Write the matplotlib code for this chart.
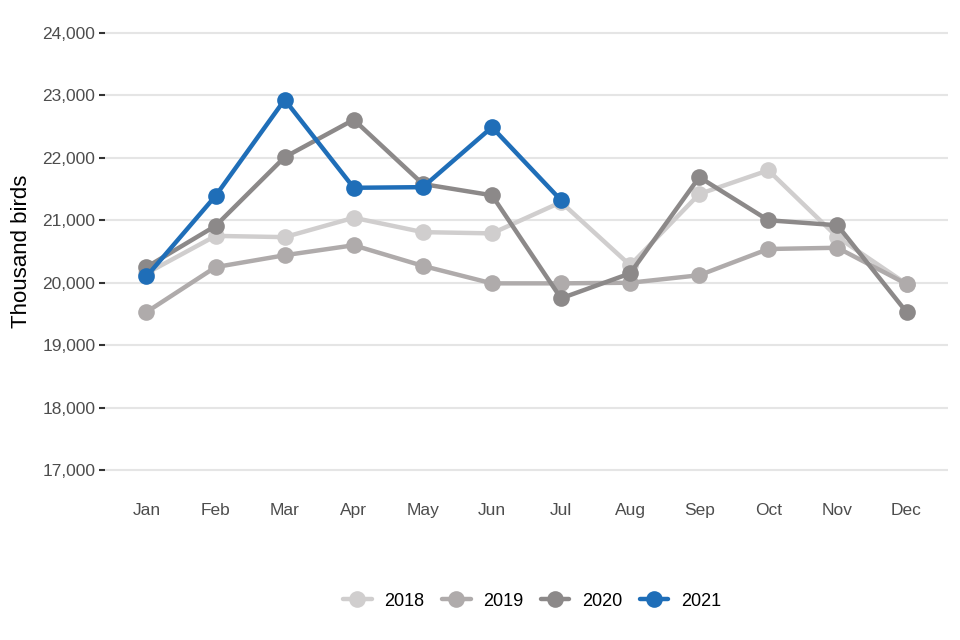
import matplotlib
matplotlib.use("Agg")
import matplotlib.pyplot as plt
from matplotlib.ticker import FuncFormatter

months = ["Jan", "Feb", "Mar", "Apr", "May", "Jun", "Jul", "Aug", "Sep", "Oct", "Nov", "Dec"]
y2018 = [20150, 20750, 20730, 21040, 20810, 20790, 21290, 20280, 21420, 21800, 20730, 19980]
y2019 = [19530, 20250, 20440, 20600, 20270, 19990, 19990, 20000, 20120, 20540, 20560, 19980]
y2020 = [20250, 20910, 22010, 22610, 21580, 21400, 19750, 20150, 21690, 21000, 20920, 19530]
y2021 = [20100, 21390, 22930, 21520, 21530, 22490, 21320]
series = [("2018", y2018, "#D0CECE"), ("2019", y2019, "#AFABAB"),
          ("2020", y2020, "#8C8989"), ("2021", y2021, "#1F6EB8")]
yticks = [17000, 18000, 19000, 20000, 21000, 22000, 23000, 24000]

plt.rcParams['font.family'] = ['Liberation Sans', 'DejaVu Sans']
fig = plt.figure(figsize=(9.6, 6.4), dpi=100)
ax = fig.add_axes([105/960, 1-492/640, (948-105)/960, (492-11)/640])

for name, vals, col in series:
    ax.plot(range(len(vals)), vals, color=col, lw=3.2, marker='o', ms=12,
            markeredgewidth=0, label=name, solid_capstyle='round', zorder=3)

ax.set_xlim(-0.6, 11.6)
ax.set_ylim(16650, 24350)
ax.set_xticks(range(12))
ax.set_xticklabels(months)
ax.set_yticks(yticks)
ax.yaxis.set_major_formatter(FuncFormatter(lambda v, p: f"{int(v):,}"))
ax.grid(axis='y', color='#E5E5E5', lw=1.5, zorder=0)
ax.grid(axis='x', visible=False)
for s in ax.spines.values():
    s.set_visible(False)
ax.tick_params(axis='y', length=4, width=1.5, color='#333333', labelcolor='#4D4D4D',
               labelsize=12.5, pad=3)
ax.tick_params(axis='x', length=0, labelcolor='#4D4D4D', labelsize=12.5, pad=8)
ax.set_ylabel("Thousand birds", fontsize=16, color='black', labelpad=7)

leg = fig.legend(loc='center', bbox_to_anchor=(532/960, 1-601/640), ncol=4, frameon=False,
                 fontsize=13, handlelength=1.6, columnspacing=0.95, handletextpad=0.7,
                 markerscale=1.0)
fig.savefig("out.png", dpi=100)
